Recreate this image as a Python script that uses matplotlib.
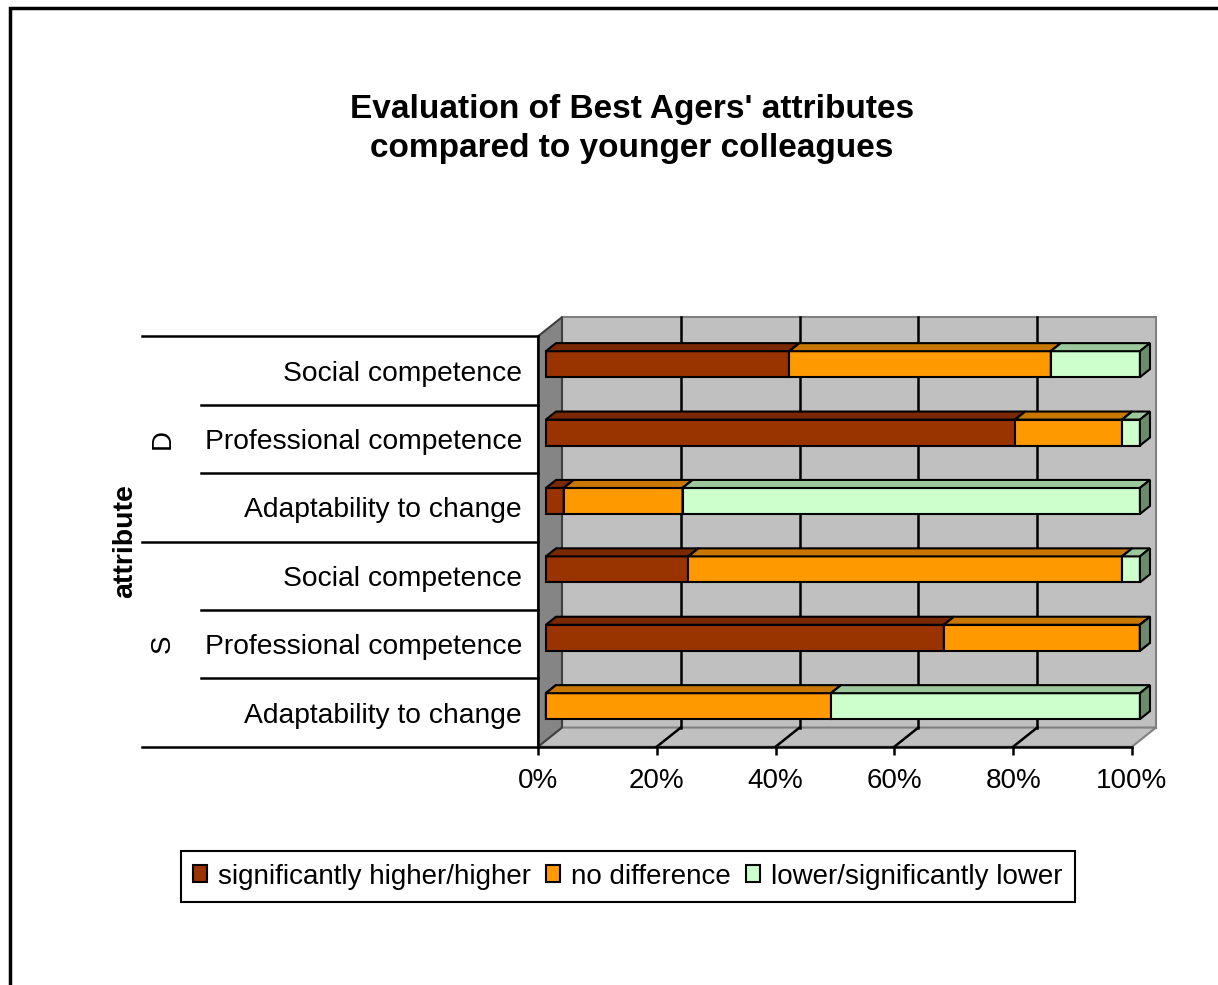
"""Stacked 3D-style bar chart: Best Agers' attributes vs. younger colleagues."""

import matplotlib

matplotlib.use("Agg")
import matplotlib.pyplot as plt
import numpy as np
from matplotlib.patches import Patch, Polygon, Rectangle
from matplotlib.transforms import blended_transform_factory

plt.rcParams["font.family"] = ["Liberation Sans", "DejaVu Sans"]

groups = ["D", "S"]
attributes = [
    "Social competence",
    "Professional competence",
    "Adaptability to change",
    "Social competence",
    "Professional competence",
    "Adaptability to change",
]
answer_labels = ["significantly higher/higher", "no difference", "lower/significantly lower"]
higher = [41, 79, 3, 24, 67, 0]
no_difference = [44, 18, 20, 73, 33, 48]
lower = [15, 3, 77, 3, 0, 52]

# front, top and side face colours for each series
face_colors = [
    ("#993300", "#7a2800", "#5c1e00"),
    ("#ff9900", "#c87800", "#a36200"),
    ("#ccffcc", "#9cc89c", "#6b8b6b"),
]

W, H = 1218, 985
DX, DY = 4.04, -0.28          # front-to-back shift of the box, in data units
BAR_T0, BAR_T1 = 0.33, 0.75   # depth fraction of bar front / back faces
BAR_H = 0.38

fig = plt.figure(figsize=(W / 100, H / 100), dpi=100)
fig.patches.append(
    Rectangle((10 / W, -0.1), 1.2, 1.1 - 8 / H, transform=fig.transFigure,
              fill=False, edgecolor="black", linewidth=2.5)
)

ax = fig.add_axes([538 / W, 1 - 746.7 / H, 594 / W, 410.4 / H])
ax.set_xlim(0, 100)
ax.set_ylim(5.5, -0.5)
ax.patch.set_visible(False)

y0, y1 = -0.5, 5.5
wall_kw = dict(edgecolor="#808080", linewidth=1.5, clip_on=False, zorder=0.5)
ax.add_patch(Polygon([(DX, y0 + DY), (100 + DX, y0 + DY), (100 + DX, y1 + DY), (DX, y1 + DY)],
                     facecolor="#c0c0c0", **wall_kw))
ax.add_patch(Polygon([(0, y1), (100, y1), (100 + DX, y1 + DY), (DX, y1 + DY)],
                     facecolor="#c0c0c0", **wall_kw))
ax.add_patch(Polygon([(0, y0), (DX, y0 + DY), (DX, y1 + DY), (0, y1)],
                     facecolor="#858585", edgecolor="#404040", linewidth=1.5,
                     clip_on=False, zorder=0.6))
for v in (20, 40, 60, 80):
    ax.plot([v + DX, v + DX], [y0 + DY, y1 + DY], color="black", lw=1.8, clip_on=False, zorder=1)
    ax.plot([v, v + DX], [y1, y1 + DY], color="black", lw=1.8, clip_on=False, zorder=1)

rows = np.arange(len(attributes))
left = np.zeros(len(rows))
bx, by = BAR_T0 * DX, BAR_T0 * DY
ddx, ddy = (BAR_T1 - BAR_T0) * DX, (BAR_T1 - BAR_T0) * DY
face_kw = dict(edgecolor="black", linewidth=1.5, clip_on=False)
for k, (values, (front, top, side)) in enumerate(zip([higher, no_difference, lower], face_colors)):
    values = np.asarray(values, dtype=float)
    z = 3 + k
    bars = ax.barh(rows + by, values, left=left + bx, height=BAR_H, color=front,
                   edgecolor="black", linewidth=1.5, zorder=z)
    for bar in bars:
        bar.set_clip_on(False)
    for r, start, v in zip(rows, left, values):
        xa, xb = start + bx, start + v + bx
        yt, yb = r + by - BAR_H / 2, r + by + BAR_H / 2
        ax.add_patch(Polygon([(xa, yt), (xb, yt), (xb + ddx, yt + ddy), (xa + ddx, yt + ddy)],
                             facecolor=top, zorder=z, **face_kw))
        ax.add_patch(Polygon([(xb, yt), (xb + ddx, yt + ddy), (xb + ddx, yb + ddy), (xb, yb)],
                             facecolor=side, zorder=z, **face_kw))
    left += values

for name in ("top", "right"):
    ax.spines[name].set_visible(False)
for name in ("left", "bottom"):
    ax.spines[name].set_linewidth(1.8)
    ax.spines[name].set_zorder(2)

ax.set_xticks([0, 20, 40, 60, 80, 100], ["0%", "20%", "40%", "60%", "80%", "100%"])
ax.tick_params(axis="x", direction="out", length=6, width=1.8, pad=9.5, labelsize=20)
ax.set_yticks(rows, attributes)
ax.tick_params(axis="y", length=0, pad=11.5, labelsize=20.3)

# category table on the left
tr = blended_transform_factory(ax.transAxes, ax.transData)
for y in np.arange(-0.5, 6.0, 1.0):
    x_start = -0.667 if y in (-0.5, 2.5, 5.5) else -0.567
    ax.plot([x_start, 0], [y, y], color="black", lw=1.8, transform=tr, clip_on=False)
for g, y in zip(groups, (1, 4)):
    ax.text(-0.631, y, g, rotation=90, ha="center", va="center", fontsize=20, transform=tr)
ax.text(-0.695, 2.5, "attribute", rotation=90, ha="center", va="center",
        fontsize=20.5, fontweight="bold", transform=tr)

fig.text(632 / W, 1 - 157 / H, "Evaluation of Best Agers' attributes\ncompared to younger colleagues",
         ha="center", va="baseline", multialignment="center", fontsize=24,
         fontweight="bold", linespacing=1.32)

handles = [Patch(facecolor=c[0], edgecolor="black", linewidth=1.5, label=l)
           for c, l in zip(face_colors, answer_labels)]
leg = fig.legend(handles=handles, loc="center", bbox_to_anchor=(628 / W, 1 - 876.5 / H),
                 ncol=3, fontsize=20, frameon=True, fancybox=False, framealpha=1,
                 edgecolor="black", handlelength=0.5, handleheight=0.55,
                 handletextpad=0.4, columnspacing=0.55, borderpad=0.45)
leg.get_frame().set_linewidth(1.5)

fig.savefig("out.png", dpi=100, facecolor="white")
